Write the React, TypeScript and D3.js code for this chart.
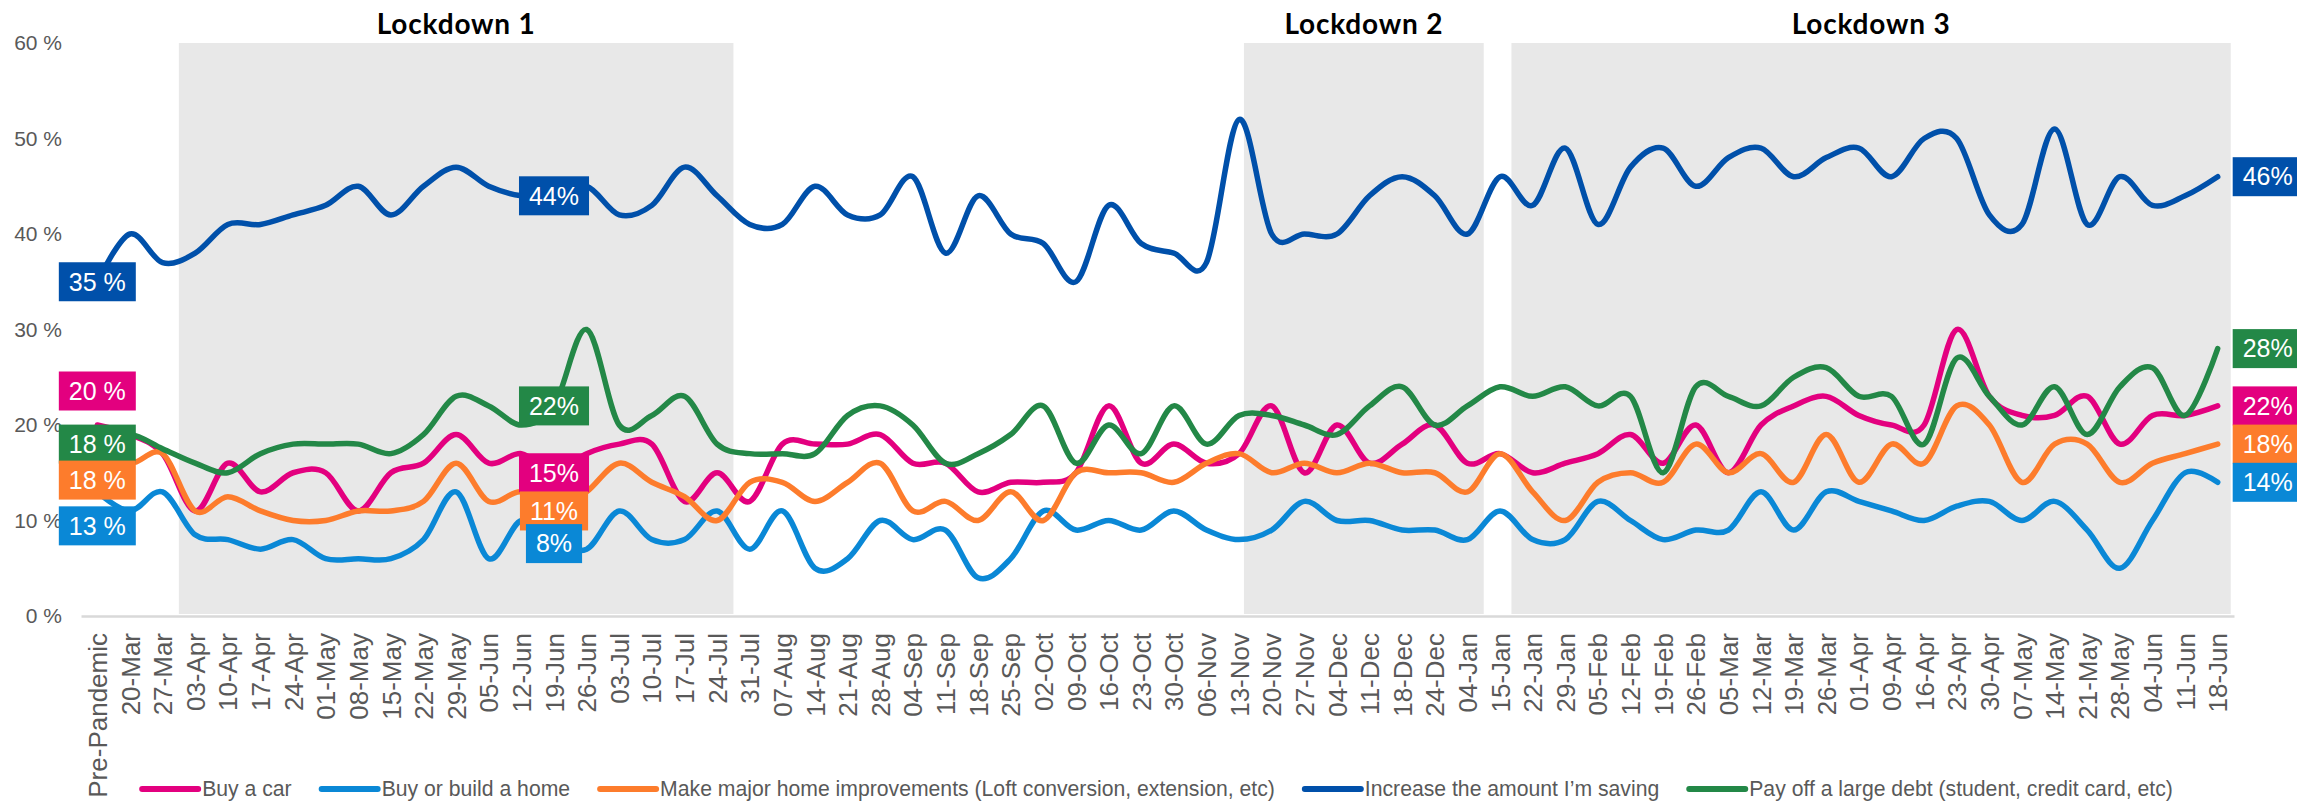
import React, { useEffect, useRef } from 'react';
import * as d3 from 'd3';

// weekly survey waves
const categories = [
  'Pre-Pandemic', '20-Mar', '27-Mar', '03-Apr', '10-Apr', '17-Apr', '24-Apr', '01-May', '08-May', '15-May',
  '22-May', '29-May', '05-Jun', '12-Jun', '19-Jun', '26-Jun', '03-Jul', '10-Jul', '17-Jul', '24-Jul',
  '31-Jul', '07-Aug', '14-Aug', '21-Aug', '28-Aug', '04-Sep', '11-Sep', '18-Sep', '25-Sep', '02-Oct',
  '09-Oct', '16-Oct', '23-Oct', '30-Oct', '06-Nov', '13-Nov', '20-Nov', '27-Nov', '04-Dec', '11-Dec',
  '18-Dec', '24-Dec', '04-Jan', '15-Jan', '22-Jan', '29-Jan', '05-Feb', '12-Feb', '19-Feb', '26-Feb',
  '05-Mar', '12-Mar', '19-Mar', '26-Mar', '01-Apr', '09-Apr', '16-Apr', '23-Apr', '30-Apr', '07-May',
  '14-May', '21-May', '28-May', '04-Jun', '11-Jun', '18-Jun'
];

const buyCar = [
  20, 19, 17, 11, 16, 13, 15, 15, 11, 15,
  16, 19, 16, 17, 15, 17, 18, 18, 12, 15,
  12, 18, 18, 18, 19, 16, 16, 13, 14, 14,
  15, 22, 16, 18, 16, 17, 22, 15, 20, 16,
  18, 20, 16, 17, 15, 16, 17, 19, 16, 20,
  15, 20, 22, 23, 21, 20, 20, 30, 23, 21,
  21, 23, 18, 21, 21, 22
];

const buyHome = [
  13, 11, 13, 8.5, 8, 7, 8, 6, 6, 6,
  8, 13, 6, 10, 8, 7, 11, 8, 8, 11,
  7, 11, 5, 6, 10, 8, 9, 4, 6, 11,
  9, 10, 9, 11, 9, 8, 9, 12, 10, 10,
  9, 9, 8, 11, 8, 8, 12, 10, 8, 9,
  9, 13, 9, 13, 12, 11, 10, 11.5, 12, 10,
  12, 9, 5, 10, 15, 14
];

const improvements = [
  18, 16, 17, 11, 12.5, 11, 10, 10, 11, 11,
  12, 16, 12, 13, 11, 13, 16, 14, 12.5, 10,
  14, 14, 12, 14, 16, 11, 12, 10, 13, 10,
  15, 15, 15, 14, 16, 17, 15, 16, 15, 16,
  15, 15, 13, 17, 13, 10, 14, 15, 14, 18,
  15, 17, 14, 19, 14, 18, 16, 22, 20, 14,
  18, 18, 14, 16, 17, 18
];

const saving = [
  35, 40, 37, 38, 41, 41, 42, 43, 45, 42,
  45, 47, 45, 44, 44, 45, 42, 43, 47, 44,
  41, 41, 45, 42, 42, 46, 38, 44, 40, 39,
  35, 43, 39, 38, 37, 52, 40, 40, 40, 44,
  46, 44, 40, 46, 43, 49, 41, 47, 49, 45,
  48, 49, 46, 48, 49, 46, 50, 50, 42, 41,
  51, 41, 46, 43, 44, 46
];

const payDebt = [
  18, 19, 17.5, 16, 15, 17, 18, 18, 18, 17,
  19, 23, 22, 20, 22, 30, 20, 21, 23, 18,
  17, 17, 17, 21, 22, 20, 16, 17, 19, 22,
  16, 20, 17, 22, 18, 21, 21, 20, 19, 22,
  24, 20, 22, 24, 23, 24, 22, 23, 15, 24,
  23, 22, 25, 26, 23, 23, 18, 27, 23, 20,
  24, 19, 24, 26, 21, 28
];

const seriesNames = [
  'Buy a car',
  'Buy or build a home',
  'Make major home improvements (Loft conversion, extension, etc)',
  'Increase the amount I\u2019m saving',
  'Pay off a large debt (student, credit card, etc)'
];
const seriesValues = [buyCar, buyHome, improvements, saving, payDebt];
const seriesColors = ['#E3007F', '#0A88D6', '#FD7C2C', '#0050AA', '#238847'];

const yTicks = [0, 10, 20, 30, 40, 50, 60];

// lockdown periods, in category-index units
const lockdownNames = ['Lockdown 1', 'Lockdown 2', 'Lockdown 3'];
const lockdownFrom = [2.5, 35.15, 43.35];
const lockdownTo = [19.5, 42.5, 65.4];

// data labels: series, category, text
const labelSeries = [3, 0, 4, 2, 1, 3, 4, 0, 2, 1, 3, 4, 0, 2, 1];
const labelIndex = [0, 0, 0, 0, 0, 14, 14, 14, 14, 14, 65, 65, 65, 65, 65];
const labelText = ['35 %', '20 %', '18 %', '18 %', '13 %', '44%', '22%', '15%', '11%', '8%', '46%', '28%', '22%', '18%', '14%'];
// manual nudges (px) like in the original
const labelNudge = [0, -34, 0, 36, 34, 0, 0, 0, 0, 4, 0, 0, 0, 0, 0];

function App() {
  const ref = useRef(null);

  useEffect(() => {
    const svg = d3.select(ref.current);
    svg.selectAll('*').remove();

    const left = 81, right = 2234, top = 43, bottom = 616;
    const font = "'Liberation Sans', Arial, sans-serif";
    const grey = '#595959';

    const x = d3.scalePoint()
      .domain(categories)
      .range([left, right])
      .padding(0.5);
    const xi = (i) => x(categories[0]) + i * x.step();

    const y = d3.scaleLinear()
      .domain([0, 60])
      .range([bottom, top]);

    // lockdown shading
    svg.append('g')
      .selectAll('rect')
      .data(lockdownNames)
      .join('rect')
      .attr('x', (d, i) => xi(lockdownFrom[i]))
      .attr('width', (d, i) => xi(lockdownTo[i]) - xi(lockdownFrom[i]))
      .attr('y', y(60))
      .attr('height', y(0) - y(60) - 2)
      .attr('fill', '#E8E8E8');

    svg.append('g')
      .selectAll('text')
      .data(lockdownNames)
      .join('text')
      .attr('x', (d, i) => (xi(lockdownFrom[i]) + xi(lockdownTo[i])) / 2)
      .attr('y', 34)
      .attr('text-anchor', 'middle')
      .style('font-family', "Lato, 'Open Sans', sans-serif")
      .style('font-weight', 700)
      .style('font-size', '28px')
      .style('letter-spacing', '0.8px')
      .attr('fill', '#000')
      .text(d => d);

    // y axis (labels only)
    const yAxis = svg.append('g')
      .attr('transform', `translate(${left},0)`)
      .call(d3.axisLeft(y).tickValues(yTicks).tickSize(0).tickPadding(19).tickFormat(d => d + ' %'));
    yAxis.select('.domain').remove();
    yAxis.selectAll('text')
      .style('font-family', font)
      .style('font-size', '21px')
      .attr('fill', grey);

    // x axis
    const xAxis = svg.append('g')
      .attr('transform', `translate(0,${bottom})`)
      .call(d3.axisBottom(x).tickSize(0).tickSizeOuter(0));
    xAxis.select('.domain')
      .attr('stroke', '#D9D9D9')
      .attr('stroke-width', 2.5);
    xAxis.selectAll('text')
      .attr('transform', 'rotate(-90)')
      .attr('x', -17)
      .attr('y', 0)
      .attr('dy', '0.35em')
      .style('text-anchor', 'end')
      .style('font-family', font)
      .style('font-size', '26px')
      .attr('fill', grey);

    // lines
    const line = d3.line()
      .x((d, i) => x(categories[i]))
      .y(d => y(d))
      .curve(d3.curveCatmullRom.alpha(0));

    svg.append('g')
      .selectAll('path')
      .data(seriesValues)
      .join('path')
      .attr('d', d => line(d))
      .attr('fill', 'none')
      .attr('stroke', (d, i) => seriesColors[i])
      .attr('stroke-width', 5.5)
      .attr('stroke-linejoin', 'round')
      .attr('stroke-linecap', 'round');

    // data labels
    const labels = svg.append('g')
      .selectAll('g')
      .data(labelText)
      .join('g');
    labels.each(function (d, i) {
      const g = d3.select(this);
      const s = labelSeries[i];
      const idx = labelIndex[i];
      const cy = y(seriesValues[s][idx]) + labelNudge[i];
      const rect = g.append('rect').attr('fill', seriesColors[s]);
      const t = g.append('text')
        .attr('y', cy)
        .attr('dy', '0.35em')
        .attr('text-anchor', 'middle')
        .style('font-family', font)
        .style('font-size', '25px')
        .attr('fill', '#fff')
        .text(d);
      const w = t.node().getComputedTextLength() + 20;
      const cx = idx === categories.length - 1
        ? x(categories[idx]) + 15 + w / 2
        : x(categories[idx]);
      t.attr('x', cx);
      rect.attr('x', cx - w / 2).attr('width', w)
        .attr('y', cy - 19.5).attr('height', 39);
    });

    // legend
    const legend = svg.append('g');
    const items = legend.selectAll('g')
      .data(seriesNames)
      .join('g');
    items.append('line')
      .attr('x1', 0).attr('x2', 56)
      .attr('y1', 0).attr('y2', 0)
      .attr('stroke', (d, i) => seriesColors[i])
      .attr('stroke-width', 6)
      .attr('stroke-linecap', 'round');
    items.append('text')
      .attr('x', 60)
      .attr('dy', '0.35em')
      .style('font-family', font)
      .style('font-size', '21.2px')
      .attr('fill', grey)
      .text(d => d);
    const widths = [];
    items.select('text').each(function () {
      widths.push(60 + this.getComputedTextLength());
    });
    const gap = 30;
    const total = d3.sum(widths) + gap * (widths.length - 1);
    let pos = (left + right) / 2 - total / 2;
    items.attr('transform', (d, i) => {
      const t = `translate(${pos},789)`;
      pos += widths[i] + gap;
      return t;
    });
  }, []);

  return (
    <div>
      <style>{'body{margin:0}'}</style>
      <svg ref={ref} width={2297} height={801} style={{ display: 'block', background: '#fff' }} />
    </div>
  );
}

export default App;
